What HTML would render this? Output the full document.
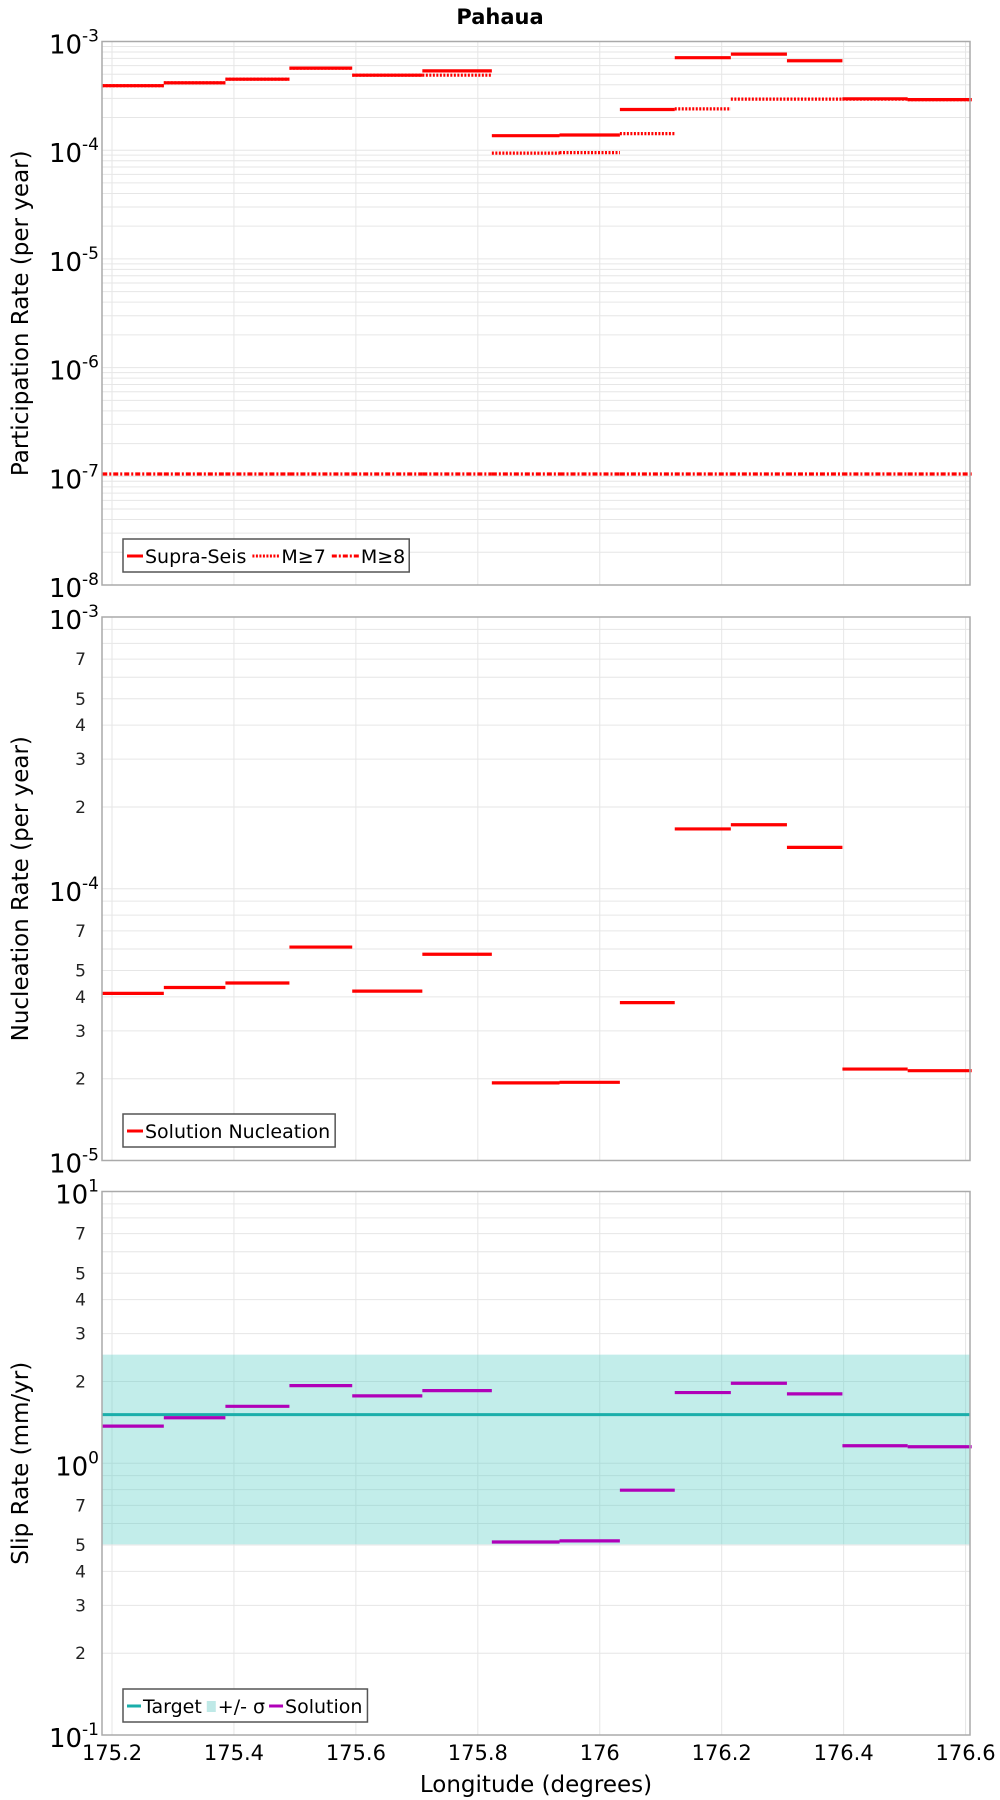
<!DOCTYPE html>
<html><head><meta charset="utf-8"><style>
body{margin:0;background:#fff;}
svg{display:block;font-family:"DejaVu Sans","Liberation Sans",sans-serif;}
</style></head><body>
<svg id="chart" width="1000" height="1800" viewBox="0 0 1000 1800" xmlns="http://www.w3.org/2000/svg">
<text x="500" y="24" text-anchor="middle" font-size="21" font-weight="bold" font-family="DejaVu Sans, sans-serif">Pahaua</text>
<g id="p1"></g>
<g id="p2"></g>
<g id="p3"></g>
</svg>
<script>
const binEdges=[175.184,175.285,175.386,175.491,175.594,175.709,175.823,175.934,176.033,176.123,176.215,176.307,176.398,176.505,176.61];
const supraSeis=[3.92e-4,4.17e-4,4.5e-4,5.69e-4,4.9e-4,5.37e-4,1.36e-4,1.38e-4,2.37e-4,7.1e-4,7.65e-4,6.65e-4,2.97e-4,2.92e-4];
const m7=[3.92e-4,4.17e-4,4.5e-4,5.69e-4,4.9e-4,4.9e-4,9.4e-5,9.5e-5,1.42e-4,2.4e-4,2.95e-4,2.95e-4,2.95e-4,2.92e-4];
const m8=[1.05e-7,1.05e-7,1.05e-7,1.05e-7,1.05e-7,1.05e-7,1.05e-7,1.05e-7,1.05e-7,1.05e-7,1.05e-7,1.05e-7,1.05e-7,1.05e-7];
const nucleation=[4.12e-5,4.33e-5,4.5e-5,6.1e-5,4.2e-5,5.74e-5,1.93e-5,1.94e-5,3.81e-5,1.66e-4,1.72e-4,1.42e-4,2.17e-5,2.14e-5];
const slipTarget=1.51;
const slipSigmaLow=0.503;
const slipSigmaHigh=2.51;
const slipSolution=[1.37,1.47,1.62,1.93,1.77,1.85,0.513,0.518,0.796,1.82,1.97,1.80,1.16,1.15];
const xTicks=[175.2,175.4,175.6,175.8,176,176.2,176.4,176.6];
const xTickLabels=["175.2","175.4","175.6","175.8","176","176.2","176.4","176.6"];

const NS="http://www.w3.org/2000/svg";
const L=102,R=970;
const X=v=>112+(v-175.2)*609.7;
function mk(parent,tag,attrs){const e=document.createElementNS(NS,tag);for(const k in attrs)e.setAttribute(k,attrs[k]);parent.appendChild(e);return e;}
function panel(g,top,minExp,maxExp,minorLabels,ytitle){
  const bot=top+543.5;
  const Y=v=>top+(maxExp-Math.log10(v))/(maxExp-minExp)*(bot-top);
  mk(g,'rect',{x:L,y:top,width:R-L,height:bot-top,fill:'#fff'});
  return {Y,bot,grid:()=>{
    for(let e=minExp;e<maxExp;e++){for(let m=1;m<10;m++){const v=m*Math.pow(10,e);const y=Y(v);
      const ln=mk(g,'line',{x1:L,x2:R,y1:y,y2:y,stroke:'#e6e6e6','stroke-width':1});
      
      if(m>1&&minorLabels.includes(m)){const t=mk(g,'text',{x:L-16,y:y+6,'text-anchor':'end','font-size':17,fill:'#222'});t.textContent=m;
        }}}
    xTicks.forEach(v=>{const x=X(v);const ln=mk(g,'line',{x1:x,x2:x,y1:top,y2:bot,stroke:'#e6e6e6','stroke-width':1});
      });
    for(let e=minExp;e<=maxExp;e++){const y=Y(Math.pow(10,e));
      const t=mk(g,'text',{x:L-3,y:y+12,'text-anchor':'end','font-size':26,fill:'#000'});
      
      t.innerHTML='10<tspan dy="-12" font-size="17">'+e+'</tspan>';}
    const tt=mk(g,'text',{x:0,y:0,'text-anchor':'middle','font-size':23,transform:`translate(28,${(top+bot)/2}) rotate(-90)`});
    tt.textContent=ytitle;
  },frame:()=>{const f=mk(g,'rect',{x:L,y:top,width:R-L,height:bot-top,fill:'none',stroke:'#aaa','stroke-width':1.5});
      }};
}
function steps(g,Y,vals,color,dash,name){
  vals.forEach((v,i)=>{const y=Y(v);const a={x1:X(binEdges[i]),x2:X(binEdges[i+1]),y1:y,y2:y,stroke:color,'stroke-width':3.2};
    if(dash)a['stroke-dasharray']=dash;const ln=mk(g,'line',a);
    });
}
function legend(g,x,y,items){
  const b=mk(g,'rect',{x,y,width:10,height:33,fill:'#fff',stroke:'#555','stroke-width':1.5});
  
  let cx=x+3;
  items.forEach(it=>{
    if(it.fill){const r=mk(g,'rect',{x:cx+2,y:y+12,width:9,height:11,fill:it.color});cx+=13;}
    else{const a={x1:cx+1,x2:cx+1+it.sw,y1:y+17,y2:y+17,stroke:it.color,'stroke-width':3};if(it.dash)a['stroke-dasharray']=it.dash;
      const l=mk(g,'line',a);cx+=it.sw+3;}
    const t=mk(g,'text',{x:cx,y:y+24,'font-size':19});t.textContent=it.label;
    
    cx+=t.getComputedTextLength()+(it.gap||5);});
  b.setAttribute('width',cx-x+1);
}
// Panel 1
const g1=document.getElementById('p1');
const P1=panel(g1,41.5,-8,-3,[],'Participation Rate (per year)');P1.grid();
steps(g1,P1.Y,m8,'#f00','5,2,2,2','m8');
steps(g1,P1.Y,m7,'#f00','2,1.5','m7');
steps(g1,P1.Y,supraSeis,'#f00',null,'supra-seis');
P1.frame();
legend(g1,123,539,[{color:'#f00',label:'Supra-Seis',sw:16,gap:5},{color:'#f00',dash:'2,1.5',label:'M≥7',sw:27,gap:5},{color:'#f00',dash:'5,2,2,2',label:'M≥8',sw:27,gap:3}]);
// Panel 2
const g2=document.getElementById('p2');
const P2=panel(g2,617,-5,-3,[2,3,4,5,7],'Nucleation Rate (per year)');P2.grid();
steps(g2,P2.Y,nucleation,'#f00',null,'nucleation');
P2.frame();
legend(g2,123,1114,[{color:'#f00',label:'Solution Nucleation',sw:16,gap:4}]);
// Panel 3
const g3=document.getElementById('p3');
const P3=panel(g3,1191.5,-1,1,[2,3,4,5,7],'Slip Rate (mm/yr)');P3.grid();
const band=mk(g3,'rect',{x:L,y:P3.Y(slipSigmaHigh),width:R-L,height:P3.Y(slipSigmaLow)-P3.Y(slipSigmaHigh),fill:'#5fd0c8','fill-opacity':0.38});

const ty=P3.Y(slipTarget);
const tl=mk(g3,'line',{x1:L,x2:R,y1:ty,y2:ty,stroke:'#1aaeaa','stroke-width':3});

steps(g3,P3.Y,slipSolution,'#b000b8',null,'slip-solution');
P3.frame();
legend(g3,123,1689,[{color:'#1aaeaa',label:'Target',sw:14,gap:3},{color:'#bfe9e7',fill:true,label:'+/- σ',gap:3},{color:'#b000b8',label:'Solution',sw:14,gap:4}]);
// X axis
const svg=document.getElementById('chart');
xTicks.forEach((v,i)=>{const t=mk(svg,'text',{x:X(v),y:1760,'text-anchor':'middle','font-size':21});t.textContent=xTickLabels[i];
  });
const xt=mk(svg,'text',{x:536,y:1792,'text-anchor':'middle','font-size':23});xt.textContent='Longitude (degrees)';

</script>
</body></html>
